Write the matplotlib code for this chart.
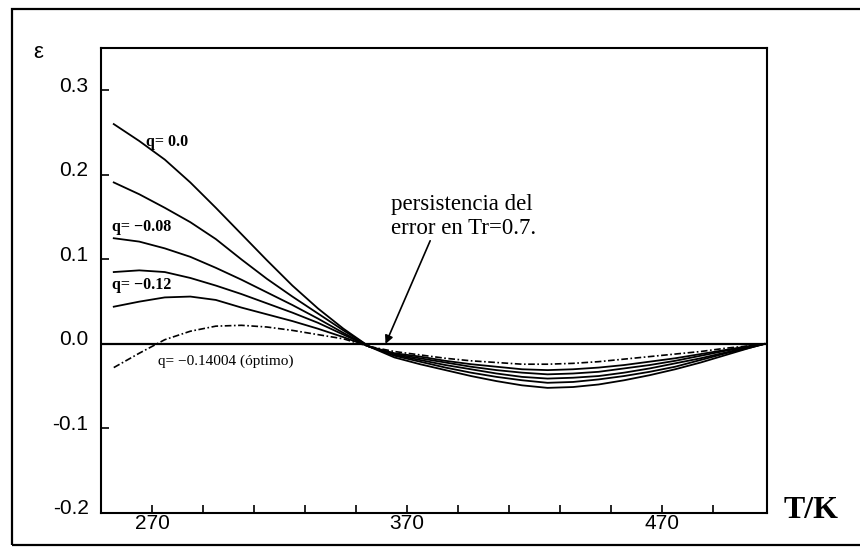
import matplotlib.pyplot as plt
import matplotlib.transforms as mtransforms
from matplotlib.patches import Rectangle

# temperaturas (K) donde se leyeron las curvas
temps = [255, 265, 275, 285, 295, 305, 315, 325, 335, 345, 355,
         365, 375, 385, 395, 405, 415, 425, 435, 445, 455, 465, 475, 485, 495, 505, 510]

# error relativo para cada valor de q (de arriba hacia abajo en T baja)
eps_q00 = [0.260, 0.240, 0.218, 0.191, 0.161, 0.130, 0.099, 0.069, 0.042, 0.018, -0.003,
           -0.016, -0.024, -0.031, -0.038, -0.044, -0.049, -0.052, -0.051, -0.048, -0.043,
           -0.037, -0.030, -0.022, -0.013, -0.004, 0.0]
eps_q004 = [0.191, 0.177, 0.161, 0.144, 0.124, 0.100, 0.077, 0.056, 0.036, 0.016, -0.003,
            -0.014, -0.021, -0.028, -0.034, -0.039, -0.043, -0.046, -0.045, -0.042, -0.038,
            -0.033, -0.027, -0.019, -0.011, -0.004, 0.0]
eps_q008 = [0.125, 0.121, 0.113, 0.103, 0.090, 0.076, 0.061, 0.046, 0.030, 0.013, -0.003,
            -0.013, -0.019, -0.025, -0.030, -0.035, -0.039, -0.041, -0.040, -0.038, -0.034,
            -0.029, -0.023, -0.017, -0.010, -0.003, 0.0]
eps_q010 = [0.085, 0.087, 0.085, 0.078, 0.069, 0.059, 0.048, 0.037, 0.025, 0.011, -0.003,
            -0.012, -0.017, -0.022, -0.027, -0.031, -0.034, -0.036, -0.035, -0.033, -0.029,
            -0.025, -0.020, -0.014, -0.008, -0.003, 0.0]
eps_q012 = [0.044, 0.050, 0.055, 0.056, 0.052, 0.043, 0.035, 0.027, 0.018, 0.008, -0.003,
            -0.011, -0.015, -0.020, -0.024, -0.027, -0.030, -0.031, -0.030, -0.028, -0.025,
            -0.021, -0.017, -0.012, -0.007, -0.002, 0.0]
eps_opt = [-0.028, -0.011, 0.005, 0.015, 0.021, 0.022, 0.020, 0.016, 0.011, 0.006, -0.003,
           -0.009, -0.013, -0.017, -0.020, -0.022, -0.024, -0.024, -0.023, -0.021, -0.018,
           -0.015, -0.012, -0.009, -0.005, -0.002, 0.0]

xticks = [270, 290, 310, 330, 350, 370, 390, 410, 430, 450, 470, 490]
xtick_labels = ['270', '', '', '', '', '370', '', '', '', '', '470', '']
yticks = [-0.2, -0.1, 0.0, 0.1, 0.2, 0.3]
ytick_labels = ['-0.2', '-0.1', '0.0', '0.1', '0.2', '0.3']

sans = ['Liberation Sans', 'DejaVu Sans']
serif = ['Liberation Serif', 'DejaVu Serif']

fig = plt.figure(figsize=(8.6, 5.49), dpi=100)
ax = fig.add_axes([101 / 860, 36 / 549, 666 / 860, 465 / 549])

# marco exterior de la figura escaneada
fig.patches.append(Rectangle((12 / 860, 4 / 549), 1.0, 536 / 549, transform=fig.transFigure,
                             fill=False, edgecolor='k', linewidth=1.6))

for serie in [eps_q00, eps_q004, eps_q008, eps_q010, eps_q012]:
    ax.plot(temps, serie, color='k', linewidth=1.3)
ax.plot(temps, eps_opt, color='k', linewidth=1.2, linestyle=(0, (4, 1.5, 1, 1.5)))

ax.axhline(0.0, color='k', linewidth=1.6)

ax.set_xlim(250, 511)
ax.set_ylim(-0.2, 0.35)
ax.set_xticks(xticks)
ax.set_xticklabels(xtick_labels)
ax.set_yticks(yticks)
ax.set_yticklabels(ytick_labels)
ax.tick_params(direction='in', length=6, width=1.2, labelsize=15)
ax.tick_params(axis='x', pad=1)
ax.tick_params(axis='y', pad=9)
for lab in ax.get_xticklabels() + ax.get_yticklabels():
    lab.set_family(sans)
# las etiquetas del eje y quedan un poco por encima de las marcas
offset = mtransforms.ScaledTranslation(0, 6 / 100, fig.dpi_scale_trans)
for lab in ax.get_yticklabels():
    lab.set_transform(lab.get_transform() + offset)
for sp in ax.spines.values():
    sp.set_linewidth(1.5)

# etiquetas de las curvas
ax.text(267.5, 0.239, 'q= 0.0', family=serif, fontsize=11.5, fontweight='bold', va='center')
ax.text(254.2, 0.138, 'q= \u22120.08', family=serif, fontsize=11.5, fontweight='bold', va='center')
ax.text(254.2, 0.070, 'q= \u22120.12', family=serif, fontsize=11.5, fontweight='bold', va='center')
ax.text(272.5, -0.021, 'q= \u22120.14004 (óptimo)', family=serif, fontsize=11, va='center')

ax.text(363.7, 0.151, 'persistencia del\nerror en Tr=0.7.', family=serif, fontsize=16.5,
        va='center', ha='left', linespacing=1.2)
ax.annotate('', xy=(361.5, 0.0), xytext=(379, 0.122),
            arrowprops=dict(arrowstyle='-|>', color='k', lw=1.2, mutation_scale=12,
                            shrinkA=0, shrinkB=0))

fig.text(38 / 860, 1 - 53 / 549, '\u03b5', family=sans, fontsize=16, ha='center', va='center')
fig.text(784 / 860, 1 - 510 / 549, 'T/K', family=serif, fontsize=23, fontweight='bold',
         ha='left', va='center')

fig.savefig('out.png', dpi=100)
